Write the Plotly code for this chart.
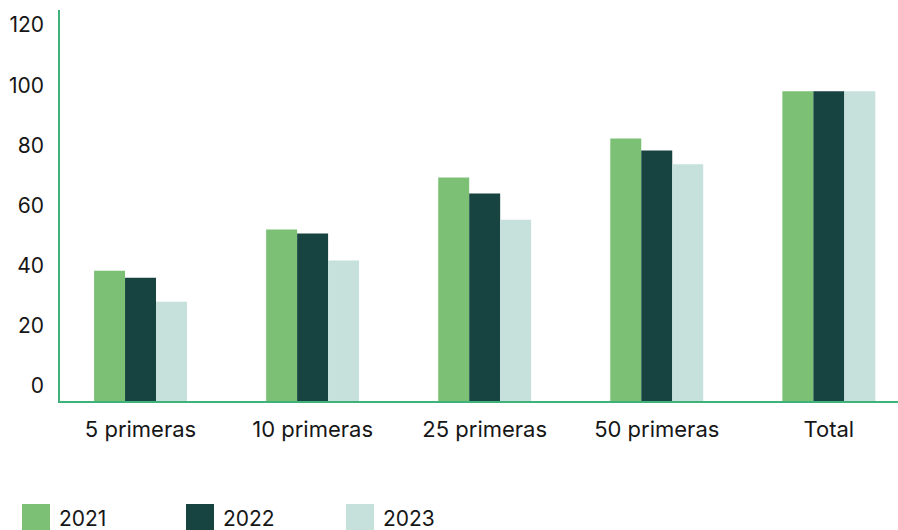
import plotly.graph_objects as go

# Concentration by group size, three years
categories = ["5 primeras", "10 primeras", "25 primeras", "50 primeras", "Total"]
years = ["2021", "2022", "2023"]
values_2021 = [43.3, 57.0, 74.3, 87.3, 103.0]
values_2022 = [41.0, 55.7, 69.0, 83.3, 103.0]
values_2023 = [33.0, 46.7, 60.3, 78.7, 103.0]
y_ticks = [0, 20, 40, 60, 80, 100, 120]

series = [values_2021, values_2022, values_2023]
colors = ["#7cc076", "#174340", "#c6e0dc"]
axis_color = "#3fb27a"
text_color = "#161616"
font_family = "Inter, Roboto, sans-serif"

fig = go.Figure()
for name, vals, col in zip(years, series, colors):
    fig.add_trace(go.Bar(
        x=categories, y=vals, name=name,
        marker=dict(color=col, line=dict(width=0)),
        showlegend=False,
    ))

# Legend drawn as large square swatches with labels beneath the chart
legend_x = [22, 186, 346]
for name, col, x0 in zip(years, colors, legend_x):
    fig.add_shape(type="rect", xref="paper", yref="paper",
                  x0=(x0 - 60) / 838, x1=(x0 + 28 - 60) / 838,
                  y0=(401 - 532) / 391, y1=(401 - 504) / 391,
                  fillcolor=col, line=dict(width=0))
    fig.add_annotation(xref="paper", yref="paper",
                       x=(x0 + 35 - 60) / 838, y=(401 - 518) / 391,
                       text=name, showarrow=False, xanchor="left", yanchor="middle",
                       font=dict(size=21, color=text_color, family=font_family))

fig.update_layout(
    width=898, height=530,
    margin=dict(l=60, r=0, t=10, b=129),
    paper_bgcolor="white", plot_bgcolor="white",
    barmode="group", bargap=0.46, bargroupgap=0,
    font=dict(family=font_family, size=21, color=text_color),
    xaxis=dict(
        range=[-0.468, 4.402],
        showline=True, linecolor=axis_color, linewidth=1.5,
        showgrid=False, zeroline=False,
        ticks="outside", ticklen=8, tickcolor="rgba(0,0,0,0)",
        tickfont=dict(size=22, color=text_color),
    ),
    yaxis=dict(
        range=[0, 130],
        tickvals=y_ticks, ticktext=[str(v) for v in y_ticks],
        showline=True, linecolor=axis_color, linewidth=1.5,
        showgrid=False, zeroline=False,
        ticks="", ticklabelstandoff=10, ticklabelshift=-15,
        tickfont=dict(size=21, color=text_color),
    ),
)

fig.write_html("out.html")
